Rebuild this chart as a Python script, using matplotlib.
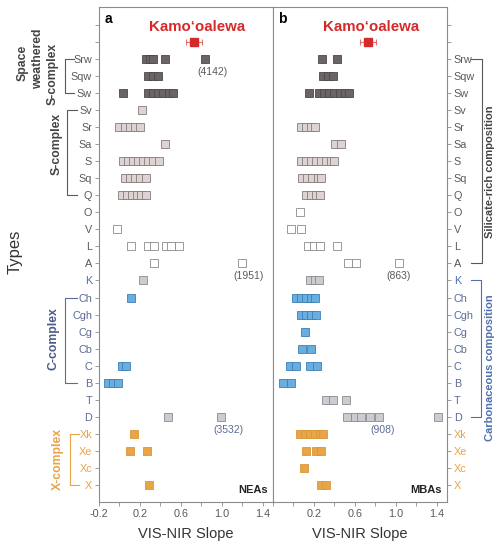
import numpy as np
import matplotlib
matplotlib.use("Agg")
import matplotlib.pyplot as plt
import matplotlib.transforms as mtransforms
from matplotlib.lines import Line2D

plt.rcParams['font.family'] = ['Liberation Sans', 'DejaVu Sans']

# taxonomic types, top to bottom
types = ["Srw", "Sqw", "Sw", "Sv", "Sr", "Sa", "S", "Sq", "Q", "O", "V", "L", "A",
         "K", "Ch", "Cgh", "Cg", "Cb", "C", "B", "T", "D", "Xk", "Xe", "Xc", "X"]

# VIS-NIR slopes of NEAs (panel a)
nea_slopes = {
    "Srw": [0.26, 0.30, 0.33, 0.44, 0.84],
    "Sqw": [0.28, 0.33, 0.38],
    "Sw": [0.03, 0.28, 0.33, 0.38, 0.43, 0.48, 0.52],
    "Sv": [0.22],
    "Sr": [0.00, 0.05, 0.10, 0.15, 0.20],
    "Sa": [0.44],
    "S": [0.03, 0.08, 0.13, 0.18, 0.23, 0.28, 0.33, 0.39],
    "Sq": [0.05, 0.10, 0.15, 0.20, 0.26],
    "Q": [0.02, 0.07, 0.12, 0.17, 0.21, 0.26],
    "V": [-0.02],
    "L": [0.11, 0.28, 0.34, 0.45, 0.50, 0.58],
    "A": [0.34, 1.20],
    "K": [0.23],
    "Ch": [0.11],
    "C": [0.02, 0.06],
    "B": [-0.11, -0.06, -0.01],
    "D": [0.47, 0.99],
    "Xk": [0.14],
    "Xe": [0.10, 0.27],
    "X": [0.29],
}

# VIS-NIR slopes of MBAs (panel b)
mba_slopes = {
    "Srw": [0.28, 0.43],
    "Sqw": [0.29, 0.34, 0.39],
    "Sw": [0.15, 0.25, 0.30, 0.35, 0.40, 0.45, 0.50, 0.54],
    "Sr": [0.07, 0.12, 0.17, 0.21],
    "Sa": [0.41, 0.46],
    "S": [0.07, 0.12, 0.17, 0.22, 0.27, 0.32, 0.37, 0.40],
    "Sq": [0.08, 0.13, 0.18, 0.24, 0.27],
    "Q": [0.12, 0.17, 0.22, 0.26],
    "O": [0.06],
    "V": [-0.02, 0.07],
    "L": [0.14, 0.20, 0.26, 0.43],
    "A": [0.53, 0.61, 1.03],
    "K": [0.16, 0.21, 0.25],
    "Ch": [0.02, 0.07, 0.12, 0.17, 0.21],
    "Cgh": [0.07, 0.12, 0.17, 0.22],
    "Cg": [0.11],
    "Cb": [0.08, 0.17],
    "C": [-0.03, 0.02, 0.16, 0.23],
    "B": [-0.10, -0.02],
    "T": [0.32, 0.39, 0.51],
    "D": [0.52, 0.60, 0.66, 0.75, 0.84, 1.41],
    "Xk": [0.06, 0.11, 0.16, 0.21, 0.26, 0.29],
    "Xe": [0.12, 0.22, 0.27],
    "Xc": [0.10],
    "X": [0.27, 0.32],
}

kamo_slope = 0.73
kamo_err = 0.08

# asteroid numbers written under outliers: (type, slope, label)
nea_notes = [("Srw", 0.91, "(4142)"), ("A", 1.26, "(1951)"), ("D", 1.06, "(3532)")]
mba_notes = [("A", 1.03, "(863)"), ("D", 0.87, "(908)")]

# colours
GREY_TXT = '#5a5a5a'
BLUE_TXT = '#5d6b96'
K_TXT = '#4f6fb0'
ORANGE = '#e9a448'
RED = '#d42a2a'


def marker_style(t):
    if t in ("Srw", "Sqw", "Sw"):
        return dict(mfc='#6b6466', mec='#4d4849')
    if t in ("Sv", "Sr", "Sa", "S", "Sq", "Q"):
        return dict(mfc='#ddd3d3', mec='#857b7b')
    if t in ("O", "V", "L", "A"):
        return dict(mfc='white', mec='#8a8a8a')
    if t in ("K", "T", "D"):
        return dict(mfc='#cbcbd0', mec='#8a8a90')
    if t in ("Ch", "Cgh", "Cg", "Cb", "C", "B"):
        return dict(mfc='#6aaee0', mec='#3d7fb5')
    return dict(mfc=ORANGE, mec='#d8973a')


def label_color(t):
    i = types.index(t)
    if i <= types.index("A"):
        return GREY_TXT
    if t == "K":
        return K_TXT
    if i <= types.index("D"):
        return BLUE_TXT
    return ORANGE


fig = plt.figure(figsize=(4.98, 5.44), dpi=100)
ax_a = fig.add_axes([99 / 498, 42 / 544, 174 / 498, 495 / 544])
ax_b = fig.add_axes([273 / 498, 42 / 544, 174 / 498, 495 / 544])
ax_b.yaxis.tick_right()

xt = np.round(np.arange(-0.2, 1.41, 0.2), 1)

for ax, slopes, notes, tag in [(ax_a, nea_slopes, nea_notes, "NEAs"),
                               (ax_b, mba_slopes, mba_notes, "MBAs")]:
    for i, t in enumerate(types):
        for v in slopes.get(t, []):
            ax.plot(v, i, 's', ms=5.3, mew=0.6, **marker_style(t))
    ax.errorbar(kamo_slope, -1, xerr=kamo_err, fmt='s', ms=5.3, mfc=RED, mec=RED,
                ecolor='#e07070', elinewidth=0.8, capsize=2.2, capthick=0.8)
    ax.text(0.76, -1.85, "Kamo\u2018oalewa", color=RED, fontsize=10.8, fontweight='bold',
            ha='center', va='center')
    for t, x, s in notes:
        c = BLUE_TXT if t == "D" else GREY_TXT
        ax.text(x, types.index(t) + 0.75, s, fontsize=7.5, color=c, ha='center', va='center')
    ax.text(0.97, 0.025, tag, transform=ax.transAxes, fontsize=8, fontweight='bold',
            color='#222222', ha='right', va='center')

    ax.set_xlim(-0.2, 1.5)
    ax.set_ylim(26.0, -3.05)
    ax.set_yticks(np.arange(-2, len(types)))
    ax.set_yticklabels(["", ""] + types)
    ax.set_xticks(xt)
    xl = ["" if k % 2 else f"{v:.1f}" for k, v in enumerate(xt)]
    if ax is ax_b:
        xl[0] = ""
    ax.set_xticklabels(xl)
    ax.set_xlabel("VIS-NIR Slope", fontsize=10.5, color='#333333', labelpad=6)
    for sp in ax.spines.values():
        sp.set_color('#8c8c8c')
        sp.set_linewidth(0.8)
    ax.tick_params(length=3, width=0.6, color='#8c8c8c', labelsize=7.8, pad=2)
    ax.tick_params(axis='x', labelcolor=GREY_TXT)
    for tk, t in zip(ax.yaxis.get_major_ticks()[2:], types):
        tk.label1.set_color(label_color(t))
        tk.label2.set_color(label_color(t))

ax_a.text(0.03, 0.975, "a", transform=ax_a.transAxes, fontsize=10, fontweight='bold', va='center')
ax_b.text(0.03, 0.975, "b", transform=ax_b.transAxes, fontsize=10, fontweight='bold', va='center')

fig.text(15 / 498, 1 - 252 / 544, "Types", rotation=90, fontsize=12, color='#333333',
         ha='center', va='center')

tr_a = mtransforms.blended_transform_factory(fig.transFigure, ax_a.transData)
tr_b = mtransforms.blended_transform_factory(fig.transFigure, ax_b.transData)


def bracket(tr, x_line, x_end, t0, t1, color):
    r0, r1 = types.index(t0), types.index(t1)
    fig.add_artist(Line2D([x_end / 498, x_line / 498, x_line / 498, x_end / 498],
                          [r0, r0, r1, r1], transform=tr, color=color, lw=0.8))


bracket(tr_a, 65, 74, "Srw", "Sw", GREY_TXT)
bracket(tr_a, 67, 77, "Sv", "Q", GREY_TXT)
bracket(tr_a, 65, 77, "Ch", "B", BLUE_TXT)
bracket(tr_a, 70, 79, "Xk", "X", ORANGE)
bracket(tr_b, 482, 471, "Srw", "A", GREY_TXT)
bracket(tr_b, 481, 471, "K", "D", K_TXT)

grp = dict(rotation=90, fontsize=8.8, fontweight='bold', ha='center', va='center')
fig.text(23 / 498, 0.2, "Space", transform=tr_a, color='#444444', **grp)
fig.text(38 / 498, 0.0, "weathered", transform=tr_a, color='#444444', **grp)
fig.text(53 / 498, 0.9, "S-complex", transform=tr_a, color='#444444', **grp)
fig.text(57 / 498, 5.0, "S-complex", transform=tr_a, color='#444444', **grp)
fig.text(53 / 498, 16.4, "C-complex", transform=tr_a, color='#4a5a8a', **grp)
fig.text(58 / 498, 23.5, "X-complex", transform=tr_a, color=ORANGE, **grp)
fig.text(490 / 498, 6.6, "Silicate-rich composition", transform=tr_b, color='#444444',
         rotation=90, fontsize=8, fontweight='bold', ha='center', va='center')
fig.text(490 / 498, 18.1, "Carbonaceous composition", transform=tr_b, color=K_TXT,
         rotation=90, fontsize=8, fontweight='bold', ha='center', va='center')

fig.savefig("out.png", dpi=100)
